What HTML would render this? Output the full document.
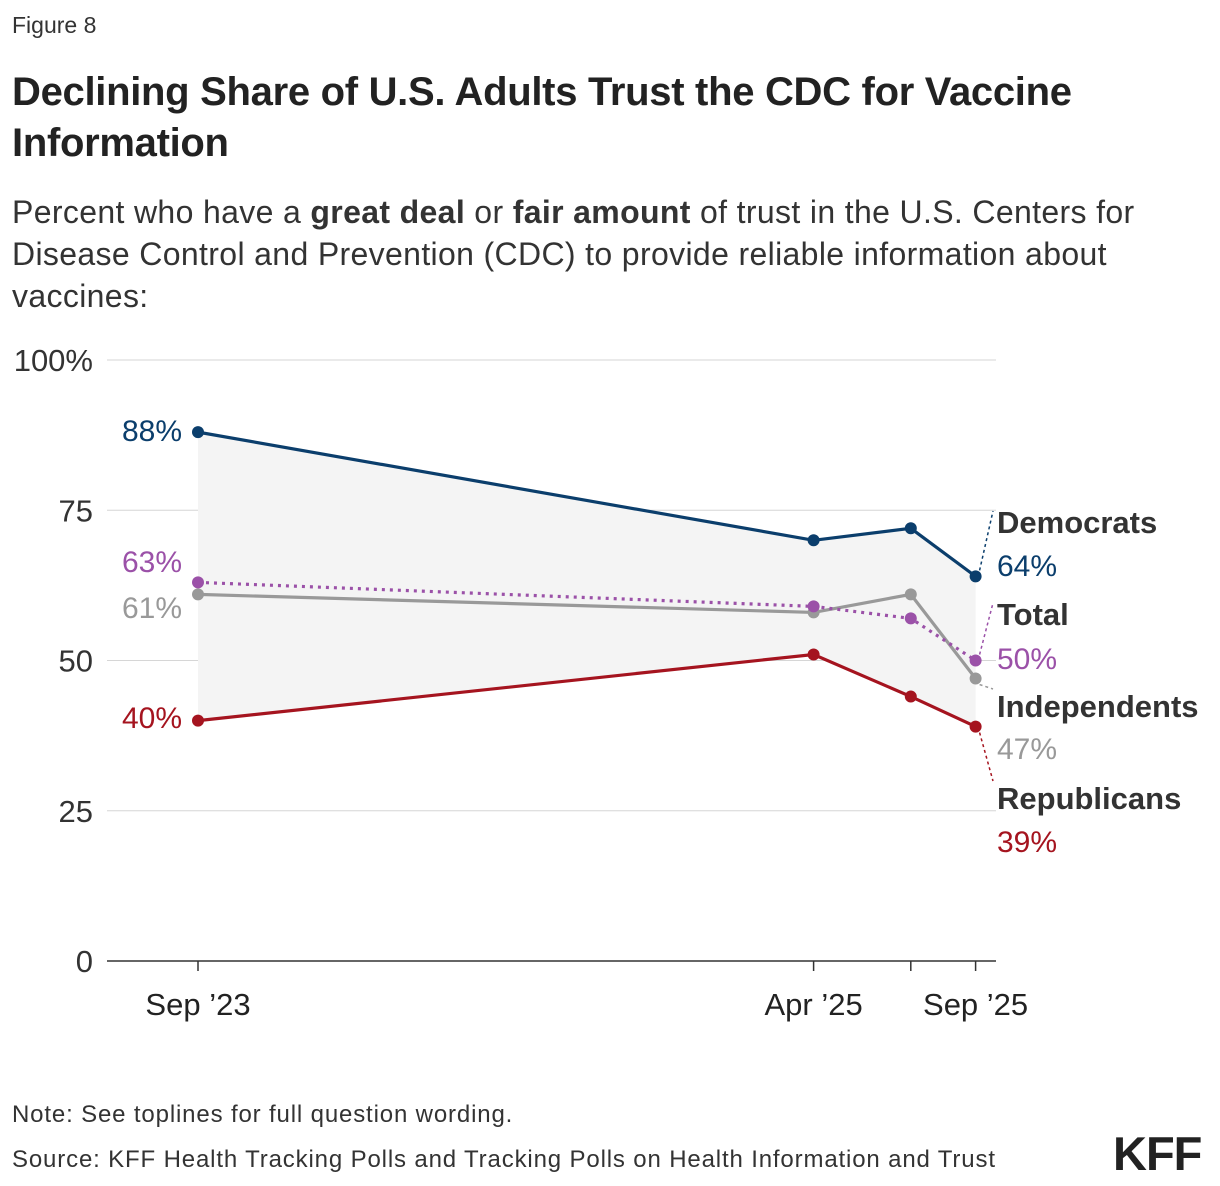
<!DOCTYPE html>
<html><head><meta charset="utf-8">
<style>
body{margin:0;background:#fff;width:1220px;height:1186px;overflow:hidden;font-family:"Liberation Sans",sans-serif;color:#222;}
.fig{position:absolute;left:12px;top:12px;font-size:23px;color:#333;}
h1{position:absolute;left:12px;top:67px;margin:0;font-size:40px;line-height:51px;font-weight:bold;color:#222;width:1200px;letter-spacing:-0.3px}
.sub{position:absolute;left:12px;top:191px;font-size:32px;line-height:42px;color:#333;width:1210px;white-space:nowrap;letter-spacing:0.35px}
.note{position:absolute;left:12px;font-size:24px;color:#333;letter-spacing:0.85px}
.kff{position:absolute;left:1113px;top:1126px;font-size:47px;font-weight:bold;color:#222;letter-spacing:-1px}
svg{position:absolute;left:0;top:0}
</style></head><body>
<div class="fig">Figure 8</div>
<h1>Declining Share of U.S. Adults Trust the CDC for Vaccine<br>Information</h1>
<div class="sub">Percent who have a <b>great deal</b> or <b>fair amount</b> of trust in the U.S. Centers for<br>Disease Control and Prevention (CDC) to provide reliable information about<br>vaccines:</div>
<svg id="chart" width="1220" height="1186"></svg>
<div class="note" style="top:1101px">Note: See toplines for full question wording.</div>
<div class="note" style="top:1146px">Source: KFF Health Tracking Polls and Tracking Polls on Health Information and Trust</div>
<div class="kff">KFF</div>
<script>
const months=[0,19,22,24];
const tickLabels=["Sep ’23","Apr ’25","","Sep ’25"];
const yTicks=[0,25,50,75,100];
const dem=[88,70,72,64];
const total=[63,59,57,50];
const ind=[61,58,61,47];
const rep=[40,51,44,39];
const svg=document.getElementById('chart');
const NS='http://www.w3.org/2000/svg';
const x=m=>198+m*32.4;
const y=v=>961-v*6.01;
function mk(t,a,p){const e=document.createElementNS(NS,t);for(const k in a)e.setAttribute(k,a[k]);(p||svg).appendChild(e);return e;}
yTicks.forEach(v=>{
 const l=mk('line',{x1:107,x2:996,y1:y(v),y2:y(v),stroke:v===0?'#333':'#d6d6d6','stroke-width':v===0?1.5:1});
 
 
 const t=mk('text',{x:93,y:y(v)+11,'text-anchor':'end','font-size':31,fill:'#333'});
 t.textContent=v===100?'100%':v;
 
 
});
months.forEach((m,i)=>{
 const l=mk('line',{x1:x(m),x2:x(m),y1:961,y2:971,stroke:'#333','stroke-width':1.5});
 
 
 if(tickLabels[i]){const t=mk('text',{x:x(m),y:1015,'text-anchor':'middle','font-size':31,fill:'#222'});t.textContent=tickLabels[i];
 
 }
});
let pts=months.map((m,i)=>x(m)+','+y(dem[i])).concat(months.slice().reverse().map((m,j)=>{const i=months.length-1-j;return x(m)+','+y(rep[i]);}));
const area=mk('polygon',{points:pts.join(' '),fill:'#f4f4f4'});


const series=[
 {n:'independents',d:ind,c:'#999',dash:null,lab:'Independents',ly:717,vy:759,first:'61%',fy:618},
 {n:'total',d:total,c:'#9b51a8',dash:'3,5',lab:'Total',ly:625,vy:669,first:'63%',fy:572},
 {n:'democrats',d:dem,c:'#0b3e6c',dash:null,lab:'Democrats',ly:533,vy:576,first:'88%',fy:441},
 {n:'republicans',d:rep,c:'#a5141f',dash:null,lab:'Republicans',ly:809,vy:852,first:'40%',fy:728}
];
series.forEach(s=>{
 const p=mk('polyline',{points:months.map((m,i)=>x(m)+','+y(s.d[i])).join(' '),fill:'none',stroke:s.c,'stroke-width':3.2});
 if(s.dash)p.setAttribute('stroke-dasharray',s.dash);
 
 
 months.forEach((m,i)=>{const c=mk('circle',{cx:x(m),cy:y(s.d[i]),r:6,fill:s.c});
 
 });
 const f=mk('text',{x:182,y:s.fy,'text-anchor':'end','font-size':30,fill:s.c});f.textContent=s.first;
 
 
 const last=s.d[s.d.length-1];
 const lx=x(months[months.length-1]);
 const cl=mk('line',{x1:lx+4,y1:y(last)+(s.ly<y(last)?-6:6),x2:993,y2:s.ly<y(last)?s.ly-22:s.ly-28,stroke:s.c,'stroke-width':1.5,'stroke-dasharray':'3,3'});
 
 
 const t=mk('text',{x:997,y:s.ly,'font-size':31,'font-weight':'bold',fill:'#333'});t.textContent=s.lab;
 
 
 const v=mk('text',{x:997,y:s.vy,'font-size':30,fill:s.c});v.textContent=last+'%';
 
 
});
</script>
</body></html>
